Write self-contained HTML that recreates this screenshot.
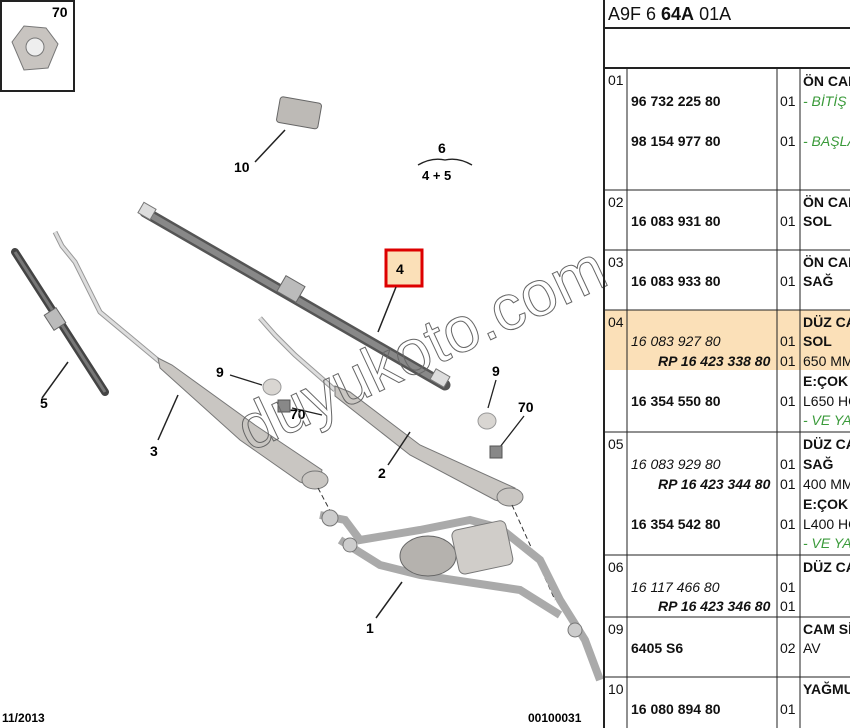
<!DOCTYPE html>
<html><head><meta charset="utf-8"><style>
html,body{margin:0;padding:0;background:#fff;width:850px;height:728px;overflow:hidden;font-family:"Liberation Sans",Arial,sans-serif}
.t{position:absolute;font-size:14px;color:#111;white-space:nowrap}
.b{font-weight:bold}
.i{font-style:italic}
.g{color:#3a9a3a;font-style:italic}
</style></head><body>
<svg width="850" height="728" style="position:absolute;left:0;top:0" font-family="Liberation Sans, Arial, sans-serif">
<rect x="1" y="1" width="73" height="90" fill="#fff" stroke="#222" stroke-width="2"/>
<text x="52" y="17" font-size="14" font-weight="bold">70</text>
<polygon points="12,42 24,26 46,28 58,44 48,68 24,70" fill="#c8c4c0" stroke="#777"/>
<circle cx="35" cy="47" r="9" fill="#eee" stroke="#777"/>
<rect x="278" y="100" width="42" height="26" rx="3" fill="#bdbab6" stroke="#666" transform="rotate(10 300 113)"/>
<line x1="285" y1="130" x2="255" y2="162" stroke="#222" stroke-width="1.5"/>
<text x="234" y="172" font-size="14" font-weight="bold">10</text>
<text x="438" y="153" font-size="14" font-weight="bold">6</text>
<path d="M418,165 Q432,157 445,160 Q458,157 472,165" fill="none" stroke="#222" stroke-width="1.3"/>
<text x="422" y="180" font-size="13" font-weight="bold">4 + 5</text>
<line x1="145" y1="212" x2="445" y2="385" stroke="#555" stroke-width="11" stroke-linecap="round"/>
<line x1="145" y1="212" x2="445" y2="385" stroke="#888" stroke-width="6"/>
<rect x="140" y="205" width="14" height="12" fill="#ddd" stroke="#777" transform="rotate(30 147 211)"/>
<rect x="280" y="280" width="22" height="18" fill="#bbb" stroke="#666" transform="rotate(30 291 289)"/>
<rect x="432" y="372" width="16" height="12" fill="#ddd" stroke="#777" transform="rotate(30 440 378)"/>
<line x1="15" y1="252" x2="105" y2="392" stroke="#444" stroke-width="8" stroke-linecap="round"/>
<line x1="15" y1="252" x2="105" y2="392" stroke="#777" stroke-width="3"/>
<rect x="48" y="310" width="14" height="18" fill="#bbb" stroke="#666" transform="rotate(-33 55 319)"/>
<line x1="68" y1="362" x2="42" y2="398" stroke="#222" stroke-width="1.5"/>
<text x="40" y="408" font-size="14" font-weight="bold">5</text>
<polyline points="55,232 62,246 75,262 100,312 160,362" fill="none" stroke="#999" stroke-width="5"/>
<polyline points="55,232 62,246 75,262 100,312 160,362" fill="none" stroke="#ddd" stroke-width="3"/>
<polygon points="158,358 172,365 255,425 322,470 318,488 300,482 240,440 160,368" fill="#c9c6c2" stroke="#777"/>
<ellipse cx="315" cy="480" rx="13" ry="9" fill="#c9c6c2" stroke="#777"/>
<line x1="178" y1="395" x2="158" y2="440" stroke="#222" stroke-width="1.5"/>
<text x="150" y="456" font-size="14" font-weight="bold">3</text>
<polyline points="260,318 275,335 295,355 335,390" fill="none" stroke="#999" stroke-width="5"/>
<polyline points="260,318 275,335 295,355 335,390" fill="none" stroke="#ddd" stroke-width="3"/>
<polygon points="335,386 350,392 420,445 515,488 512,505 495,500 410,455 335,396" fill="#c9c6c2" stroke="#777"/>
<ellipse cx="510" cy="497" rx="13" ry="9" fill="#c9c6c2" stroke="#777"/>
<line x1="410" y1="432" x2="388" y2="465" stroke="#222" stroke-width="1.5"/>
<text x="378" y="478" font-size="14" font-weight="bold">2</text>
<text x="216" y="377" font-size="14" font-weight="bold">9</text>
<line x1="230" y1="375" x2="262" y2="385" stroke="#222" stroke-width="1.3"/>
<ellipse cx="272" cy="387" rx="9" ry="8" fill="#d9d6d2" stroke="#999"/>
<rect x="278" y="400" width="12" height="12" fill="#888" stroke="#555"/>
<line x1="292" y1="408" x2="322" y2="415" stroke="#222" stroke-width="1.3"/>
<text x="290" y="419" font-size="14" font-weight="bold">70</text>
<text x="492" y="376" font-size="14" font-weight="bold">9</text>
<line x1="496" y1="380" x2="488" y2="408" stroke="#222" stroke-width="1.3"/>
<ellipse cx="487" cy="421" rx="9" ry="8" fill="#d9d6d2" stroke="#999"/>
<text x="518" y="412" font-size="14" font-weight="bold">70</text>
<line x1="524" y1="416" x2="500" y2="447" stroke="#222" stroke-width="1.3"/>
<rect x="490" y="446" width="12" height="12" fill="#888" stroke="#555"/>
<line x1="318" y1="488" x2="335" y2="520" stroke="#333" stroke-dasharray="5,3"/>
<line x1="512" y1="505" x2="555" y2="600" stroke="#333" stroke-dasharray="5,3"/>
<path d="M320,515 L345,520 L360,540 L420,530 L470,520 L500,528 L540,560 L560,600 L585,640 L600,680" fill="none" stroke="#aaa" stroke-width="8"/>
<path d="M340,540 L380,565 L420,575 L520,590 L560,615" fill="none" stroke="#aaa" stroke-width="8"/>
<ellipse cx="428" cy="556" rx="28" ry="20" fill="#b5b2ae" stroke="#666"/>
<rect x="455" y="525" width="55" height="45" rx="6" fill="#d0cdc9" stroke="#777" transform="rotate(-12 482 548)"/>
<circle cx="330" cy="518" r="8" fill="#ccc" stroke="#777"/>
<circle cx="350" cy="545" r="7" fill="#ccc" stroke="#777"/>
<circle cx="575" cy="630" r="7" fill="#ccc" stroke="#777"/>
<line x1="402" y1="582" x2="376" y2="618" stroke="#222" stroke-width="1.5"/>
<text x="366" y="633" font-size="14" font-weight="bold">1</text>
<rect x="386" y="250" width="36" height="36" fill="#fbe0b8" stroke="#d00" stroke-width="3"/>
<text x="396" y="274" font-size="14" font-weight="bold">4</text>
<line x1="396" y1="287" x2="378" y2="332" stroke="#222" stroke-width="1.5"/>
<text x="0" y="0" font-size="64" fill="none" stroke="#666" stroke-width="1" transform="translate(250,452) rotate(-25)">duyukoto.com</text>
<text x="2" y="722" font-size="12" font-weight="bold">11/2013</text>
<text x="528" y="722" font-size="12" font-weight="bold">00100031</text>
<rect x="604" y="310" width="246" height="60" fill="#fbe0b8"/>
<line x1="604" y1="0" x2="604" y2="728" stroke="#222" stroke-width="2"/>
<line x1="604" y1="28" x2="850" y2="28" stroke="#222" stroke-width="2"/>
<line x1="604" y1="68" x2="850" y2="68" stroke="#222" stroke-width="2"/>
<line x1="627" y1="68" x2="627" y2="728" stroke="#222"/>
<line x1="777" y1="68" x2="777" y2="728" stroke="#222"/>
<line x1="800" y1="68" x2="800" y2="728" stroke="#222"/>
<g stroke="#222"><line x1="604" y1="190" x2="850" y2="190"/><line x1="604" y1="250" x2="850" y2="250"/><line x1="604" y1="310" x2="850" y2="310"/><line x1="604" y1="432" x2="850" y2="432"/><line x1="604" y1="555" x2="850" y2="555"/><line x1="604" y1="617" x2="850" y2="617"/><line x1="604" y1="677" x2="850" y2="677"/></g>
</svg>
<div class="t" style="left:608px;top:4px;font-size:18px">A9F 6 <b>64A</b> 01A</div>
<div class="t" style="left:608px;top:72px">01</div><div class="t" style="left:608px;top:194px">02</div><div class="t" style="left:608px;top:254px">03</div><div class="t" style="left:608px;top:314px">04</div><div class="t" style="left:608px;top:436px">05</div><div class="t" style="left:608px;top:559px">06</div><div class="t" style="left:608px;top:621px">09</div><div class="t" style="left:608px;top:681px">10</div>
<div class="t b" style="left:631px;top:93px">96 732 225 80</div><div class="t" style="left:780px;top:93px">01</div>
<div class="t b" style="left:631px;top:133px">98 154 977 80</div><div class="t" style="left:780px;top:133px">01</div>
<div class="t b" style="left:803px;top:73px">ÖN CAM</div><div class="t g" style="left:803px;top:93px">- BİTİŞ</div><div class="t g" style="left:803px;top:133px">- BAŞLA</div>
<div class="t b" style="left:631px;top:213px">16 083 931 80</div><div class="t" style="left:780px;top:213px">01</div><div class="t b" style="left:803px;top:194px">ÖN CAM</div><div class="t b" style="left:803px;top:213px">SOL</div>
<div class="t b" style="left:631px;top:273px">16 083 933 80</div><div class="t" style="left:780px;top:273px">01</div><div class="t b" style="left:803px;top:254px">ÖN CAM</div><div class="t b" style="left:803px;top:273px">SAĞ</div>
<div class="t b" style="left:803px;top:314px">DÜZ CAM</div><div class="t i" style="left:631px;top:333px">16 083 927 80</div><div class="t" style="left:780px;top:333px">01</div><div class="t b" style="left:803px;top:333px">SOL</div>
<div class="t b i" style="left:658px;top:353px">RP 16 423 338 80</div><div class="t" style="left:780px;top:353px">01</div><div class="t" style="left:803px;top:353px">650 MM</div>
<div class="t b" style="left:803px;top:373px">E:ÇOK</div><div class="t b" style="left:631px;top:393px">16 354 550 80</div><div class="t" style="left:780px;top:393px">01</div><div class="t" style="left:803px;top:393px">L650 HO</div><div class="t g" style="left:803px;top:412px">- VE YA</div>
<div class="t b" style="left:803px;top:436px">DÜZ CAM</div><div class="t i" style="left:631px;top:456px">16 083 929 80</div><div class="t" style="left:780px;top:456px">01</div><div class="t b" style="left:803px;top:456px">SAĞ</div>
<div class="t b i" style="left:658px;top:476px">RP 16 423 344 80</div><div class="t" style="left:780px;top:476px">01</div><div class="t" style="left:803px;top:476px">400 MM</div>
<div class="t b" style="left:803px;top:496px">E:ÇOK</div><div class="t b" style="left:631px;top:516px">16 354 542 80</div><div class="t" style="left:780px;top:516px">01</div><div class="t" style="left:803px;top:516px">L400 HO</div><div class="t g" style="left:803px;top:535px">- VE YA</div>
<div class="t b" style="left:803px;top:559px">DÜZ CAM</div><div class="t i" style="left:631px;top:579px">16 117 466 80</div><div class="t" style="left:780px;top:579px">01</div>
<div class="t b i" style="left:658px;top:598px">RP 16 423 346 80</div><div class="t" style="left:780px;top:598px">01</div>
<div class="t b" style="left:803px;top:621px">CAM SİL</div><div class="t b" style="left:631px;top:640px">6405 S6</div><div class="t" style="left:780px;top:640px">02</div><div class="t" style="left:803px;top:640px">AV</div>
<div class="t b" style="left:803px;top:681px">YAĞMUR</div><div class="t b" style="left:631px;top:701px">16 080 894 80</div><div class="t" style="left:780px;top:701px">01</div>
</body></html>
